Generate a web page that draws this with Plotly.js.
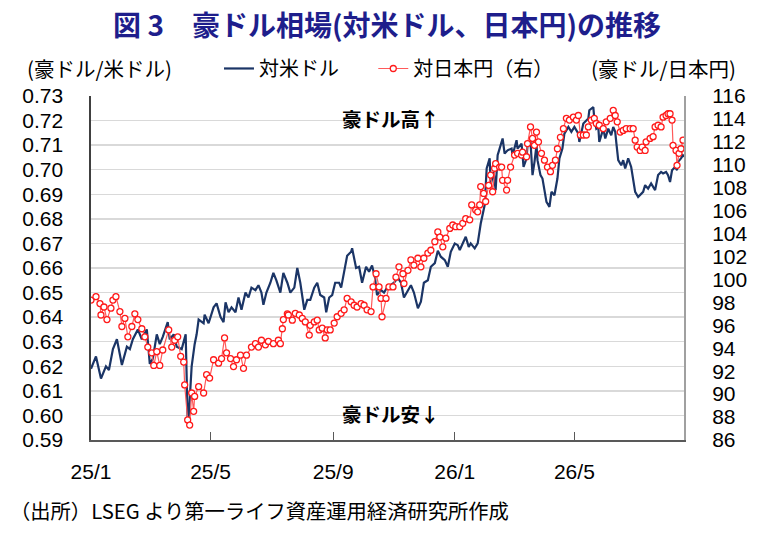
<!DOCTYPE html>
<html>
<head>
<meta charset="utf-8">
<script src="https://cdn.plot.ly/plotly-3.0.1.min.js"></script>
<style>
  body { margin: 0; background: #fff; }
  #chart { width: 765px; height: 534px; }
</style>
</head>
<body>
<div id="chart"></div>
<script>
// days counted from 2025-01-01
var usdDays = [0,5,10,15,18,22,26,31,36,39,42,47,51,56,59,62,66,69,72,77,79,83,86,91,95,97,98,99,101,104,106,108,113,114,118,123,126,130,133,135,138,141,145,148,151,155,158,161,165,168,171,173,176,180,183,186,190,193,197,
  200,204,207,210,214,217,220,224,227,230,234,236,239,242,245,249,251,254,257,261,262,266,269,272,276,279,282,285,287,291,294,297,301,304,308,311,314,318,321,324,328,331,334,338,341,345,348,351,355,358,361,365,368,370,373,376,379,381,385,388,
  391,395,397,400,401,404,406,408,410,413,415,418,422,423,427,428,432,434,437,438,441,443,445,447,448,451,453,457,460,462,465,468,470,473,475,479,482,485,489,490,494,497,499,500,504,505,507,509,510,514,516,519,522,524,526,527,529,532,534,536,539,542,544,546,549,552,554,556,559,562,564,566,569,572,574,577,579,581,583,586,588,589,592,594,596];
var usdRate = [0.619,0.624,0.615,0.620,0.6185,0.627,0.631,0.6205,0.628,0.627,0.631,0.635,0.631,0.635,0.621,0.623,0.633,0.629,0.632,0.638,0.631,0.633,0.628,0.627,0.633,0.598,0.599,0.606,0.620,0.629,0.633,0.639,0.6375,0.641,0.6375,0.644,0.6456,0.640,0.638,0.646,0.642,0.644,0.642,0.648,0.643,0.650,0.648,0.652,0.651,0.653,0.650,0.645,0.650,0.654,0.658,0.655,0.650,0.658,0.654,
  0.650,0.652,0.660,0.654,0.643,0.647,0.647,0.652,0.654,0.649,0.648,0.642,0.648,0.649,0.654,0.654,0.652,0.6585,0.665,0.6666,0.668,0.660,0.6605,0.654,0.6605,0.6585,0.661,0.656,0.649,0.651,0.650,0.652,0.653,0.654,0.656,0.654,0.648,0.651,0.653,0.650,0.6436,0.6463,0.654,0.655,0.6605,0.662,0.667,0.6646,0.6632,0.6605,0.6666,0.670,0.6693,0.6673,0.670,0.6727,0.6686,0.670,0.668,0.670,
  0.678,0.6856,0.7005,0.7046,0.6937,0.6991,0.6917,0.7059,0.7086,0.7127,0.7066,0.7079,0.7086,0.7059,0.712,0.7086,0.7106,0.7011,0.7046,0.710,0.7113,0.6978,0.7032,0.710,0.7039,0.6978,0.6964,0.6869,0.6849,0.691,0.6896,0.6964,0.7046,0.7086,0.7147,0.7174,0.7154,0.7174,0.7147,0.7113,0.7188,0.7201,0.7208,0.7242,0.7255,0.7208,0.7167,0.7174,0.7113,0.7167,0.7127,0.7167,0.714,0.7174,0.7154,0.7113,0.7039,0.7018,0.7039,0.7005,0.7046,0.7011,0.6957,0.691,0.6889,0.6903,0.691,0.6937,0.6923,0.6944,0.693,0.6917,0.6978,0.6991,0.6985,0.6991,0.6978,0.695,0.6998,0.7011,0.6998,0.7032,0.7046,0.7059,0.7052];

var jpyDays = [0,5,9,10,13,16,20,22,25,29,31,34,37,41,44,47,51,54,57,61,63,66,69,72,78,81,84,87,90,93,94,97,99,101,103,104,108,113,116,119,123,128,131,134,136,140,143,146,150,153,156,161,165,168,171,175,178,183,188,190,192,193,197,198,
  202,205,209,212,215,219,220,224,227,229,232,235,237,240,244,247,251,254,257,261,264,267,271,274,277,281,283,286,289,291,292,296,299,303,306,309,313,314,318,321,324,328,331,334,338,341,345,348,350,353,356,360,363,366,370,373,376,380,382,386,388,390,
  391,394,396,399,401,403,405,406,410,412,413,417,418,421,425,428,432,433,437,438,441,443,445,447,449,452,455,458,461,463,466,468,471,474,477,480,484,487,489,491,494,497,499,502,505,507,510,514,517,521,524,526,528,531,534,537,541,544,546,548,551,553,556,557,561,564,566,569,572,574,577,579,581,583,584,587,588,590,592,594];
var jpyRate = [98.2,98.5,97.9,96.9,97.6,96.5,97.5,98.2,98.5,97.2,95.9,96.6,95.0,95.9,97.0,96.5,95.7,95.0,94.1,93.6,92.5,93.7,92.5,93.85,95.6,94.1,94.7,95.0,93.3,92.8,90.8,87.75,87.3,90.1,88.5,89.8,90.65,90.1,91.7,91.4,93.0,92.7,93.1,94.9,93.6,93.1,92.4,93.0,93.4,92.25,93.4,94.1,94.4,94.1,94.7,94.3,94.6,94.4,94.7,94.4,95.7,96.5,97.0,96.9,
  96.45,97.05,96.9,96.6,96.3,95.15,96.0,96.3,96.45,95.6,95.75,94.9,95.6,95.6,96.2,96.75,97.05,97.35,98.35,98.05,97.75,97.6,97.9,97.75,97.35,97.2,99.35,100.5,99.35,98.35,96.75,98.35,99.35,99.35,100.2,101.1,100.5,99.65,100.8,101.7,101.25,101.85,101.1,101.85,102.3,102.55,103.3,104.15,103.7,102.85,103.6,104.45,104.75,104.6,104.6,104.9,105.3,105.2,106.5,106.05,105.9,106.5,
  108.1,107.5,106.8,108.2,109.1,107.65,109.7,110.1,109.8,109.8,108.65,107.8,108.65,109.8,110.85,111.0,110.85,111.1,110.7,111.85,113.3,112.3,111.7,112.85,112.0,111.0,110.4,109.8,109.4,109.95,110.4,111.4,112.4,113.15,114.05,113.9,114.15,113.9,114.3,112.6,112.6,112.6,113.3,113.9,114.05,113.6,113.45,113.15,113.75,114.05,114.75,114.3,113.75,112.85,113.0,113.15,113.15,113.15,112.15,111.55,111.25,111.55,111.25,112.0,112.3,112.45,113.3,113.45,113.3,114.15,114.3,114.45,114.45,113.9,111.7,111.25,109.95,111.0,111.4,112.15];

var tickDates = ['2025-01-01', '2025-05-01', '2025-09-01', '2026-01-01', '2026-05-01'];
var tickLabels = ['25/1', '25/5', '25/9', '26/1', '26/5'];

function toDate(d) {
  return new Date(Date.UTC(2025, 0, 1) + d * 86400000).toISOString().slice(0, 10);
}

var numFont = 'Liberation Sans, Noto Sans CJK JP, sans-serif';
var jpFont = 'Noto Sans CJK JP, sans-serif';

var data = [
  {
    x: usdDays.map(toDate),
    y: usdRate,
    name: '対米ドル',
    type: 'scatter',
    mode: 'lines',
    line: { color: '#1b3566', width: 2.2 },
    legend: 'legend',
    hoverinfo: 'skip'
  },
  {
    x: jpyDays.map(toDate),
    y: jpyRate,
    name: '対日本円（右）',
    type: 'scatter',
    mode: 'lines+markers',
    yaxis: 'y2',
    line: { color: '#ff5a5a', width: 1.2 },
    marker: { symbol: 'circle', size: 6, color: '#ffffff', line: { color: '#ff1a1a', width: 1.3 } },
    legend: 'legend2',
    hoverinfo: 'skip'
  }
];

var legendStyle = {
  orientation: 'h',
  y: 1.08, yanchor: 'middle',
  xanchor: 'left',
  font: { family: jpFont, size: 20, color: '#000000' },
  bgcolor: 'rgba(0,0,0,0)',
  itemclick: false
};

var layout = {
  width: 765,
  height: 534,
  margin: { l: 91, r: 81, t: 96, b: 94 },
  paper_bgcolor: '#ffffff',
  plot_bgcolor: '#ffffff',
  font: { family: numFont, size: 21, color: '#000000' },
  title: {
    text: '<b>図 3　豪ドル相場(対米ドル、日本円)の推移</b>',
    font: { family: jpFont, size: 28, color: '#1e1e8c' },
    xref: 'container', x: 0.506, xanchor: 'center',
    yref: 'container', y: 0.951, yanchor: 'middle'
  },
  showlegend: true,
  legend: Object.assign({}, legendStyle, { x: 0.2158 }),
  legend2: Object.assign({}, legendStyle, { x: 0.476 }),
  xaxis: {
    type: 'date',
    range: ['2025-01-01', '2026-08-19'],
    tickvals: tickDates,
    ticktext: tickLabels,
    ticks: 'inside',
    ticklen: 8,
    tickcolor: '#595959',
    tickwidth: 1.3,
    ticklabelstandoff: 12,
    showgrid: false,
    showline: true,
    linecolor: '#595959',
    linewidth: 1.5,
    tickfont: { family: numFont, size: 21 }
  },
  yaxis: {
    range: [0.59, 0.73],
    dtick: 0.01,
    tickformat: '.2f',
    ticks: '',
    ticklabelstandoff: 22,
    showgrid: true,
    gridcolor: '#d9d9d9',
    gridwidth: 1.3,
    zeroline: false,
    showline: true,
    linecolor: '#404040',
    linewidth: 1.6,
    tickfont: { family: numFont, size: 21 }
  },
  yaxis2: {
    range: [86, 116],
    dtick: 2,
    overlaying: 'y',
    side: 'right',
    ticks: '',
    ticklabelstandoff: 22,
    showgrid: false,
    zeroline: false,
    showline: true,
    linecolor: '#a0a0a0',
    linewidth: 2,
    tickfont: { family: numFont, size: 21 }
  },
  annotations: [
    { text: '(豪ドル/米ドル)', xref: 'paper', yref: 'paper', x: -0.1105, y: 1.08,
      xanchor: 'left', yanchor: 'middle', showarrow: false,
      font: { family: jpFont, size: 20.5, color: '#000000' } },
    { text: '(豪ドル/日本円)', xref: 'paper', yref: 'paper', x: 1.091, y: 1.08,
      xanchor: 'right', yanchor: 'middle', showarrow: false,
      font: { family: jpFont, size: 20.5, color: '#000000' } },
    { text: '<b>豪ドル高↑</b>', xref: 'paper', yref: 'paper', x: 0.506, y: 0.935,
      xanchor: 'center', yanchor: 'middle', showarrow: false,
      font: { family: jpFont, size: 19.5, color: '#000000' } },
    { text: '<b>豪ドル安↓</b>', xref: 'paper', yref: 'paper', x: 0.506, y: 0.078,
      xanchor: 'center', yanchor: 'middle', showarrow: false,
      font: { family: jpFont, size: 19.5, color: '#000000' } },
    { text: '（出所）LSEG より第一ライフ資産運用経済研究所作成', xref: 'paper', yref: 'paper',
      x: -0.1395, y: -0.203, xanchor: 'left', yanchor: 'middle', showarrow: false,
      font: { family: jpFont, size: 20.3, color: '#000000' } }
  ]
};

Plotly.newPlot('chart', data, layout, { displayModeBar: false, staticPlot: true });
</script>
</body>
</html>
